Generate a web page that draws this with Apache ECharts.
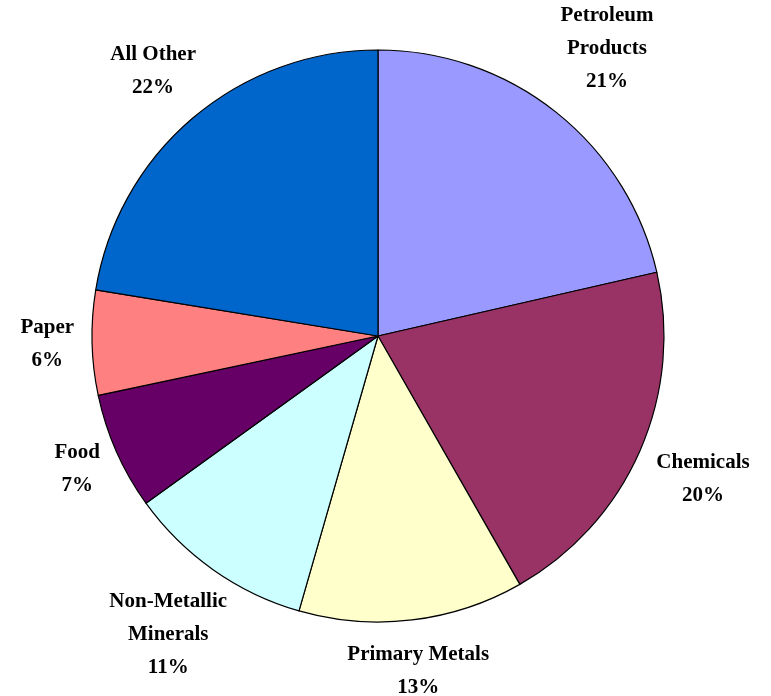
<!DOCTYPE html>
<html>
<head>
<meta charset="utf-8">
<script src="https://cdn.jsdelivr.net/npm/echarts@6/dist/echarts.min.js"></script>
<style>
  html, body { margin: 0; padding: 0; background: #fff; }
  #chart { width: 771px; height: 696px; }
</style>
</head>
<body>
<div id="chart"></div>
<script>
var names = ['Petroleum\nProducts', 'Chemicals', 'Primary Metals', 'Non-Metallic\nMinerals', 'Food', 'Paper', 'All Other'];
// shares (labels show them rounded)
var shares = [21.4, 20.3, 12.7, 10.6, 6.6, 5.9, 22.4];
var colors = ['#9999FF', '#993366', '#FFFFCC', '#CCFFFF', '#660066', '#FF8080', '#0066CC'];

var cx = 378, cy = 336, R = 286;
var total = shares.reduce(function (a, b) { return a + b; }, 0);

// mid angle of each slice, clockwise from 12 o'clock
var mids = [];
var acc = 0;
shares.forEach(function (v) {
  mids.push((acc + v / 2) / total * Math.PI * 2);
  acc += v;
});

var myChart = echarts.init(document.getElementById('chart'));
var option = {
  animation: false,
  series: [{
    type: 'pie',
    center: [cx, cy],
    radius: R,
    startAngle: 90,
    clockwise: true,
    avoidLabelOverlap: false,
    emphasis: { disabled: true },
    itemStyle: { borderColor: '#000', borderWidth: 1.2 },
    label: {
      show: true,
      position: 'outside',
      formatter: function (p) {
        return p.name + '\n' + Math.round(p.value / total * 100) + '%';
      },
      fontFamily: '"Liberation Serif", "Times New Roman", serif',
      fontWeight: 'bold',
      fontSize: 21,
      lineHeight: 33,
      color: '#000',
      align: 'center'
    },
    labelLine: { show: false },
    // put the label box just outside the rim, along the slice's middle
    labelLayout: function (p) {
      var t = mids[p.dataIndex];
      var s = Math.sin(t), c = Math.cos(t);
      var w = p.labelRect.width, h = p.labelRect.height;
      var ex = Math.abs(s) > 1e-6 ? w / 2 / Math.abs(s) : 1e9;
      var ey = Math.abs(c) > 1e-6 ? h / 2 / Math.abs(c) : 1e9;
      var d = R + 18 + Math.min(ex, ey);
      return {
        x: cx + d * s,
        y: cy - d * c,
        align: 'center',
        verticalAlign: 'middle'
      };
    },
    data: names.map(function (n, i) {
      return { name: n, value: shares[i], itemStyle: { color: colors[i] } };
    })
  }]
};
myChart.setOption(option);
</script>
</body>
</html>
